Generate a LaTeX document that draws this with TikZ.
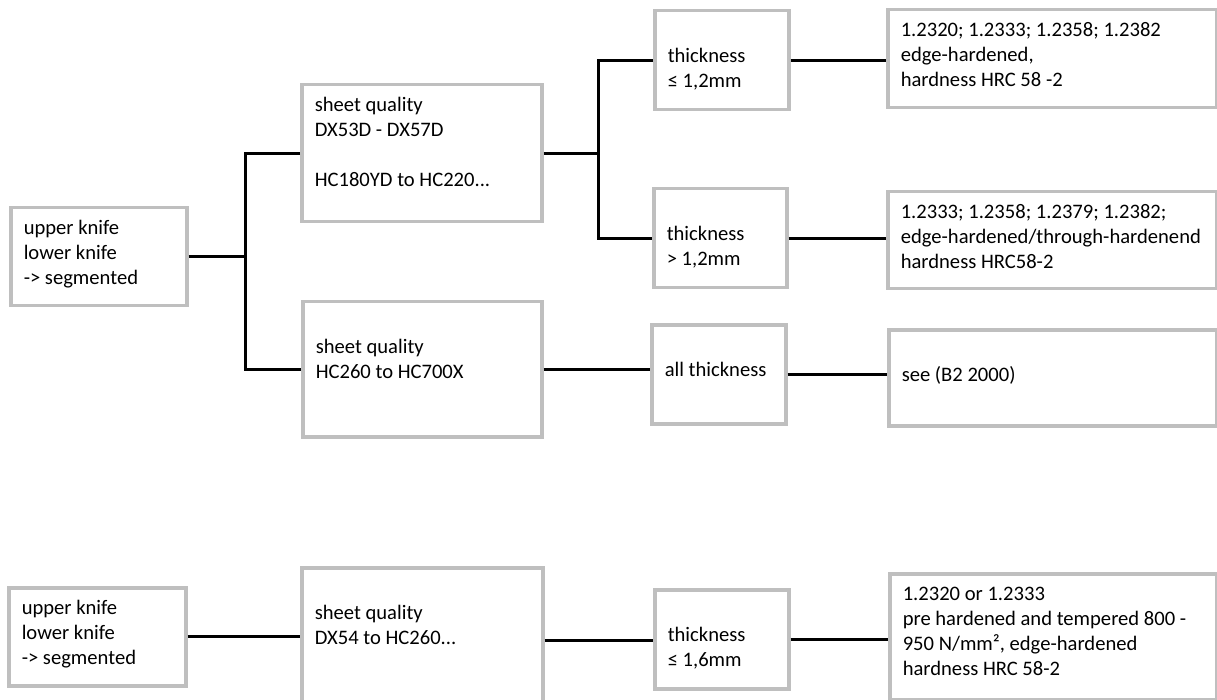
\documentclass[tikz,border=0pt]{standalone}
\usepackage{fontspec}
\setmainfont{Carlito}
\usetikzlibrary{calc}
\definecolor{boxgray}{HTML}{BFBFBF}
\def\cellbox#1#2#3{\parbox[c][#2pt][t]{#1pt}{\strut\begin{tabular}[t]{@{}l@{}}#3\end{tabular}}}

\begin{document}
\begin{tikzpicture}[x=1pt, y=-1pt,
		cell/.style={draw=boxgray, line width=3.5pt, inner xsep=13pt, inner ysep=9.5pt, anchor=north west, font=\fontsize{20.6pt}{25pt}\selectfont},
		link/.style={line width=2.8pt, black}]
			%%%%% START %%%%%
			
			\useasboundingbox (0, 0) rectangle (1217, 700);
			
			%% upper tree
			\node[cell] (knife) at (9, 206) {\cellbox{150}{79}{upper knife\\lower knife\\-> segmented}};
			
			\node[cell] (sheetA) at (300, 83) {\cellbox{214}{118}{sheet quality\\DX53D - DX57D\\ \\HC180YD to HC220...}};
			\node[cell] (sheetB) at (301, 300) {\cellbox{213}{116}{\\sheet quality\\HC260 to HC700X}};
			
			\node[cell] (thinA) at (653, 9) {\cellbox{108}{80}{\\thickness\\≤ 1,2mm}};
			\node[cell] (thickB) at (652, 187) {\cellbox{107}{80}{\\thickness\\> 1,2mm}};
			\node[cell] (allthick) at (650, 323) {\cellbox{108}{80}{\\all thickness}};
			
			\node[cell] (steelA) at (886, 8) {\cellbox{303}{79}{1.2320; 1.2333; 1.2358; 1.2382\\edge-hardened,\\hardness HRC 58 -2}};
			\node[cell] (steelB) at (886, 190) {\cellbox{303}{78}{1.2333; 1.2358; 1.2379; 1.2382;\\edge-hardened/through-hardenend\\hardness HRC58-2}};
			\node[cell] (steelC) at (887, 328) {\cellbox{302}{77}{\\see (B2 2000)}};
			
			\coordinate (fork1) at ($(knife.east)+(57, 0)$);
			\draw[link] (knife.east) -- (fork1);
			\draw[link] (sheetA.west) -| (fork1) |- (sheetB.west);
			
			\coordinate (fork2) at ($(sheetA.east)+(55, 0)$);
			\draw[link] (sheetA.east) -- (fork2);
			\draw[link] (thinA.west) -| (fork2) |- (thickB.west);
			
			\draw[link] (sheetB.east) -- (sheetB.east -| allthick.west);
			\draw[link] (thinA.east) -- (thinA.east -| steelA.west);
			\draw[link] (thickB.east) -- (thickB.east -| steelB.west);
			\draw[link] (allthick.east) -- (allthick.east -| steelC.west);
			
			%% lower row
			\node[cell] (knifeL) at (7, 586) {\cellbox{151}{79}{upper knife\\lower knife\\-> segmented}};
			\node[cell] (sheetL) at (300, 566) {\cellbox{215}{127}{\\sheet quality\\DX54 to HC260...}};
			\node[cell] (thinL) at (653, 588) {\cellbox{108}{80}{\\thickness\\≤ 1,6mm}};
			\node[cell] (steelL) at (888, 572) {\cellbox{301}{107}{1.2320 or 1.2333\\pre hardened and tempered 800 -\\950 N/mm², edge-hardened\\hardness HRC 58-2}};
			
			\draw[link] (knifeL.east) -- (knifeL.east -| sheetL.west);
			\draw[link] (sheetL.east) -- (sheetL.east -| thinL.west);
			\draw[link] (thinL.east) -- (thinL.east -| steelL.west);
			
			%%%%% END %%%%%
\end{tikzpicture}
\end{document}
